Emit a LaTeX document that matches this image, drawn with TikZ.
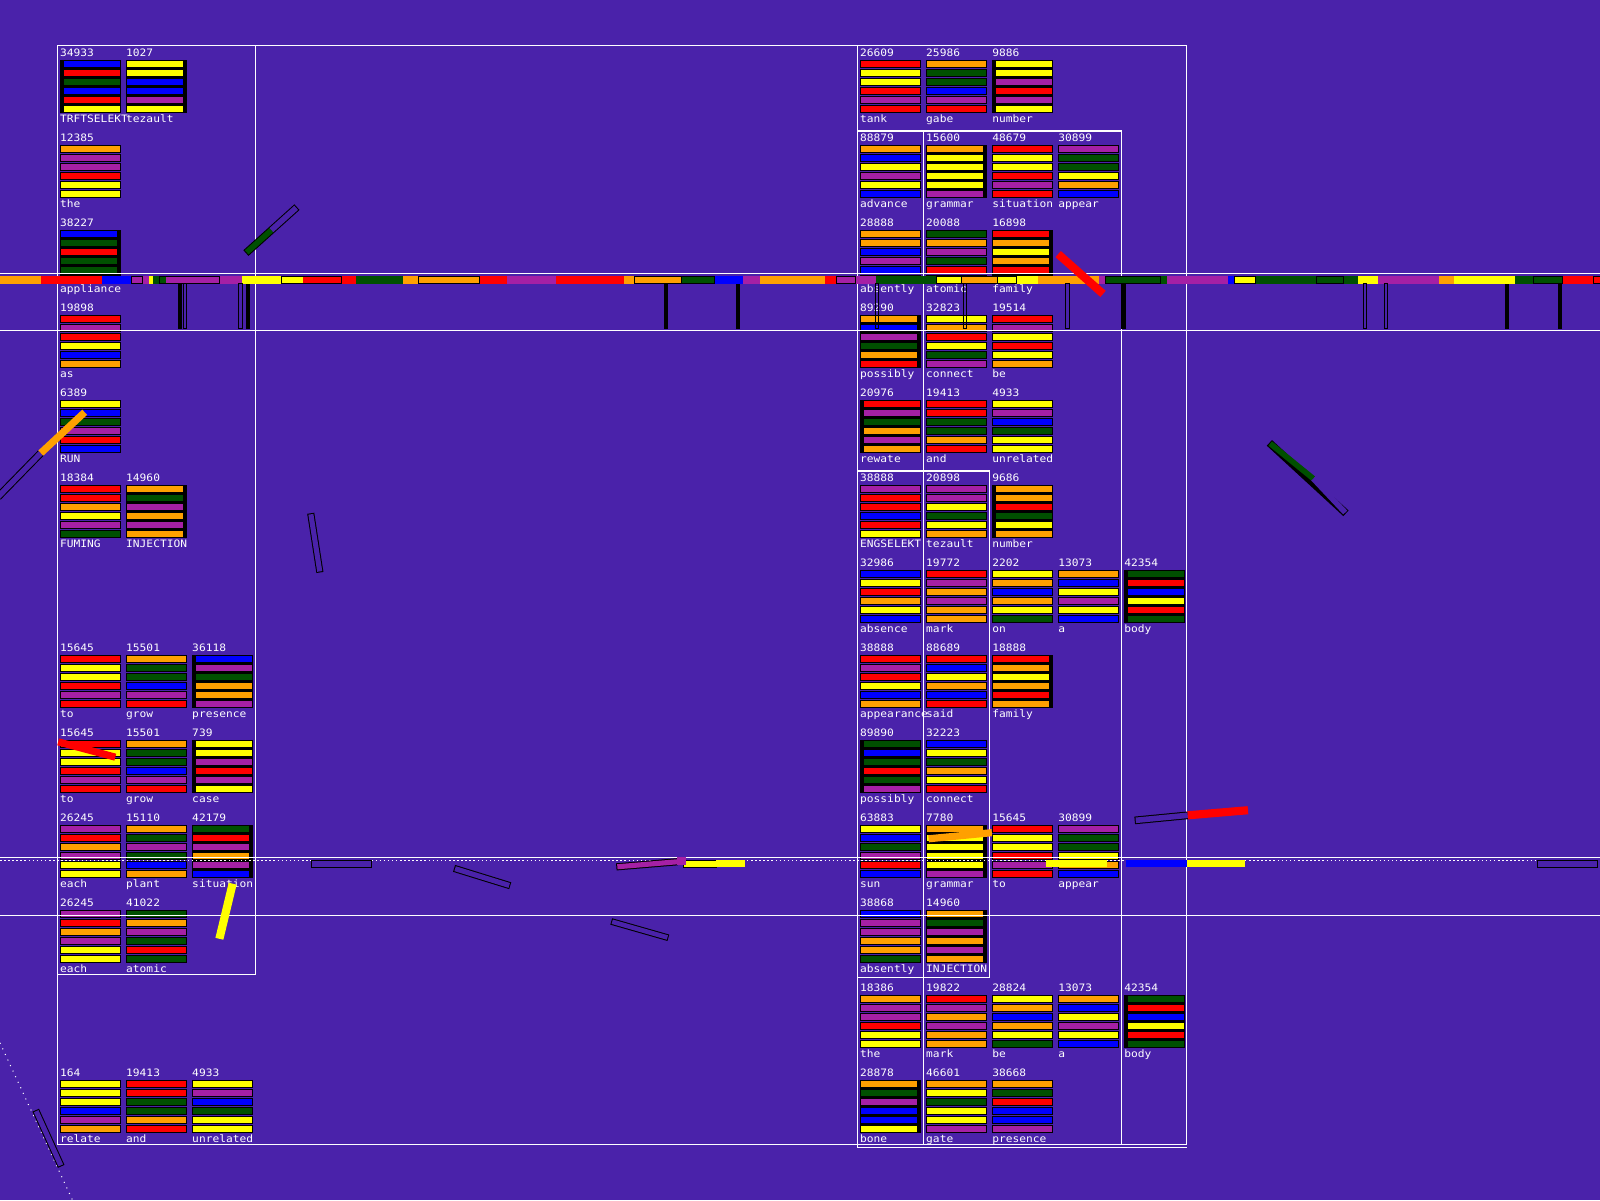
\documentclass[tikz,border=0pt]{standalone}
\usepackage{fontspec}
\setmonofont[FakeStretch=1.1]{DejaVu Sans Mono}
\usepackage{xcolor}
\usepackage{tikz}

\definecolor{bgc}{RGB}{74,34,170}
\definecolor{rd}{RGB}{255,0,0}
\definecolor{yl}{RGB}{255,255,0}
\definecolor{bu}{RGB}{0,0,255}
\definecolor{gn}{RGB}{0,80,0}
\definecolor{pp}{RGB}{165,32,165}
\definecolor{og}{RGB}{255,160,0}

\newcommand{\panelL}{58.8}
\newcommand{\panelR}{842.8}

% card: panel, column, row, number, word, black side (n/l/r), bar colours
\newcommand{\card}[7]{%
  \pgfmathsetmacro{\cx}{\csname panel#1\endcsname+64.7*#2}%
  \pgfmathsetmacro{\cy}{48+83.3*#3}%
  \def\lin{0}\def\rin{0}%
  \if#6l\def\lin{3.2}\fi
  \if#6r\def\rin{3.2}\fi
  \if#6n\else\fill[black] (\cx,\cy+11.1) rectangle ++(59.5,51.3);\fi
  \foreach \bc [count=\k from 0] in {#7}
    \draw[bar, fill=\bc] (\cx+\lin,\cy+11.5+8.8*\k) rectangle ++(59.5-\lin-\rin,6.5);
  \node[lbl] (#1-#2-#3-num) at (\cx,\cy+7) {#4};
  \node[lbl] (#1-#2-#3-word) at (\cx,\cy+72.5) {#5};
}

\begin{document}
\begin{tikzpicture}[
    x=1pt, y=-1pt,
    bar/.style={draw=black, line width=0.9pt},
    lbl/.style={text=white, inner sep=0pt, anchor=base west, font=\ttfamily\fontsize{10}{10}\selectfont},
    frame/.style={draw=white, line width=1.1pt},
    stick/.style={draw=black, line width=7.5pt},
    core/.style={line width=5.5pt}
]

\fill[bgc] (0,0) rectangle (1568,1176);
\useasboundingbox (0,0) rectangle (1568,1176);

% Cards, left panel :
\card{L}{0}{0}{34933}{TRFTSELEKT}{l}{bu,rd,gn,bu,rd,yl}
\card{L}{1}{0}{1027}{tezault}{r}{yl,yl,bu,bu,pp,yl}
\card{L}{0}{1}{12385}{the}{n}{og,pp,pp,rd,yl,yl}
\card{L}{0}{2}{38227}{appliance}{r}{bu,gn,rd,gn,gn,gn}
\card{L}{0}{3}{19898}{as}{n}{rd,pp,rd,yl,bu,og}
\card{L}{0}{4}{6389}{RUN}{n}{yl,bu,gn,pp,rd,bu}
\card{L}{0}{5}{18384}{FUMING}{n}{rd,rd,og,yl,pp,gn}
\card{L}{1}{5}{14960}{INJECTION}{r}{og,gn,pp,og,pp,og}
\card{L}{0}{7}{15645}{to}{n}{rd,yl,yl,rd,pp,rd}
\card{L}{1}{7}{15501}{grow}{n}{og,gn,gn,bu,pp,rd}
\card{L}{2}{7}{36118}{presence}{l}{bu,pp,gn,og,og,pp}
\card{L}{0}{8}{15645}{to}{n}{rd,yl,yl,rd,pp,rd}
\card{L}{1}{8}{15501}{grow}{n}{og,gn,gn,bu,pp,rd}
\card{L}{2}{8}{739}{case}{l}{yl,yl,pp,rd,pp,yl}
\card{L}{0}{9}{26245}{each}{n}{pp,rd,og,pp,yl,yl}
\card{L}{1}{9}{15110}{plant}{n}{og,gn,pp,gn,bu,og}
\card{L}{2}{9}{42179}{situation}{r}{gn,rd,pp,og,pp,bu}
\card{L}{0}{10}{26245}{each}{n}{pp,rd,og,pp,yl,yl}
\card{L}{1}{10}{41022}{atomic}{n}{gn,og,pp,gn,rd,gn}
\card{L}{0}{12}{164}{relate}{n}{yl,yl,yl,bu,pp,og}
\card{L}{1}{12}{19413}{and}{n}{rd,rd,gn,gn,og,rd}
\card{L}{2}{12}{4933}{unrelated}{n}{yl,pp,bu,gn,yl,yl}

% Cards, right panel :
\card{R}{0}{0}{26609}{tank}{n}{rd,yl,yl,rd,pp,rd}
\card{R}{1}{0}{25986}{gabe}{n}{og,gn,gn,bu,pp,rd}
\card{R}{2}{0}{9886}{number}{l}{yl,yl,pp,rd,pp,yl}
\card{R}{0}{1}{88879}{advance}{n}{og,bu,yl,pp,yl,bu}
\card{R}{1}{1}{15600}{grammar}{r}{og,yl,yl,yl,yl,pp}
\card{R}{2}{1}{48679}{situation}{n}{rd,yl,yl,rd,pp,rd}
\card{R}{3}{1}{30899}{appear}{n}{pp,gn,gn,yl,og,bu}
\card{R}{0}{2}{28888}{absently}{n}{og,og,bu,pp,bu,yl}
\card{R}{1}{2}{20088}{atomic}{n}{gn,og,pp,gn,rd,yl}
\card{R}{2}{2}{16898}{family}{r}{rd,og,yl,og,rd,og}
\card{R}{0}{3}{89290}{possibly}{r}{og,bu,pp,gn,og,rd}
\card{R}{1}{3}{32823}{connect}{n}{yl,og,rd,yl,gn,pp}
\card{R}{2}{3}{19514}{be}{n}{rd,pp,yl,rd,yl,og}
\card{R}{0}{4}{20976}{rewate}{l}{rd,pp,gn,og,pp,og}
\card{R}{1}{4}{19413}{and}{n}{rd,rd,gn,gn,og,rd}
\card{R}{2}{4}{4933}{unrelated}{n}{yl,pp,bu,gn,yl,yl}
\card{R}{0}{5}{38888}{ENGSELEKT}{n}{pp,rd,rd,bu,rd,yl}
\card{R}{1}{5}{20898}{tezault}{n}{pp,pp,yl,gn,yl,og}
\card{R}{2}{5}{9686}{number}{l}{og,og,rd,gn,yl,og}
\card{R}{0}{6}{32986}{absence}{n}{bu,yl,rd,og,yl,bu}
\card{R}{1}{6}{19772}{mark}{n}{rd,pp,og,pp,og,og}
\card{R}{2}{6}{2202}{on}{n}{yl,og,bu,og,yl,gn}
\card{R}{3}{6}{13073}{a}{n}{og,bu,yl,pp,yl,bu}
\card{R}{4}{6}{42354}{body}{l}{gn,rd,bu,yl,rd,gn}
\card{R}{0}{7}{38888}{appearance}{n}{rd,pp,rd,yl,bu,og}
\card{R}{1}{7}{88689}{said}{n}{rd,bu,yl,og,bu,rd}
\card{R}{2}{7}{18888}{family}{r}{rd,og,yl,og,rd,og}
\card{R}{0}{8}{89890}{possibly}{l}{gn,bu,gn,rd,gn,pp}
\card{R}{1}{8}{32223}{connect}{n}{bu,yl,gn,og,yl,rd}
\card{R}{0}{9}{63883}{sun}{n}{yl,bu,gn,pp,rd,bu}
\card{R}{1}{9}{7780}{grammar}{r}{og,yl,yl,yl,yl,pp}
\card{R}{2}{9}{15645}{to}{n}{rd,yl,yl,rd,pp,rd}
\card{R}{3}{9}{30899}{appear}{n}{pp,gn,gn,yl,og,bu}
\card{R}{0}{10}{38868}{absently}{n}{bu,pp,pp,og,og,gn}
\card{R}{1}{10}{14960}{INJECTION}{r}{og,gn,pp,og,pp,og}
\card{R}{0}{11}{18386}{the}{n}{og,pp,pp,rd,yl,yl}
\card{R}{1}{11}{19822}{mark}{n}{rd,pp,og,pp,og,og}
\card{R}{2}{11}{28824}{be}{n}{yl,og,bu,og,yl,gn}
\card{R}{3}{11}{13073}{a}{n}{og,bu,yl,pp,yl,bu}
\card{R}{4}{11}{42354}{body}{l}{gn,rd,bu,yl,rd,gn}
\card{R}{0}{12}{28878}{bone}{r}{og,gn,pp,bu,bu,yl}
\card{R}{1}{12}{46601}{gate}{n}{og,yl,gn,yl,yl,pp}
\card{R}{2}{12}{38668}{presence}{n}{og,gn,rd,bu,bu,pp}

% Frames :
\draw[frame] (56,45) rectangle (1163,1122);
\draw[frame] (56,45) rectangle (250,955);
\draw[frame] (840,45) -- (840,1124.5) -- (1163,1124.5);
\draw[frame] (840,128.4) rectangle (1099,1122);
\draw[frame] (905,128.4) -- (905,1122);
\draw[frame] (840,461.6) rectangle (969.5,957.8);
\foreach \ly in {268,324,840,897}
  \draw[frame] (0,\ly) -- (1568,\ly);

% Top strip :
\foreach \xa/\xb/\sc in {0/40.2/og, 40.2/100/rd, 100/128.4/bu, 128.4/146/pp, 146/150/yl,
    150/163/gn, 163/237/pp, 237/297/yl, 297/349/rd, 349/395/gn, 395/470/og, 470/497/rd,
    497/545/pp, 545/612/rd, 612/668/og, 668/700/gn, 700/728/bu, 728/745/pp, 745/808/og,
    808/820/rd, 820/858/pp, 858/918/gn, 918/942/yl, 942/978/og, 978/1017/yl, 1017/1077/og,
    1077/1083/pp, 1083/1144/gn, 1144/1203/pp, 1203/1210/bu, 1210/1230/yl, 1230/1331/gn,
    1331/1350/yl, 1350/1410/pp, 1410/1425/og, 1425/1485/yl, 1485/1531/gn, 1531/1568/rd}
  \fill[\sc] (\xa,270.5) rectangle (\xb,278.3);
\foreach \xa/\xb in {128.4/139.8, 156/215, 275.4/335, 410/470, 622/668, 668/700, 820/838,
    918/942, 942/978, 978/996, 1083/1137, 1210/1230, 1290/1317, 1503/1531, 1562/1570}
  \draw[black, line width=1pt] (\xa,271) rectangle (\xb,277.8);

% Posts :
\foreach \xa in {174.4, 241, 651, 721, 1099, 1475, 1527}
  \fill[black] (\xa,278.3) rectangle ++(4,44);
\foreach \xa in {179.4, 234, 857.5, 944, 1044.5, 1336, 1356.5}
  \draw[black, line width=1pt] (\xa,278.3) rectangle ++(3.6,43.5);

% Lower strip :
\draw[white, line width=1pt, dash pattern=on 1.5pt off 2.5pt] (0,843.5) -- (1568,843.5);
\draw[black, line width=1pt] (305,843) rectangle (364,850);
\draw[black, line width=1pt] (1507,843) rectangle (1566,850);
\draw[black, line width=1pt, fill=yl] (670,843) rectangle (702,850);
\fill[yl] (702,843) rectangle (730,850);
\fill[yl] (1025,843) rectangle (1085,850);
\fill[bu] (1103,843) rectangle (1163,850);
\fill[yl] (1163,843) rectangle (1220,850);
\draw[stick, line width=7pt] (445,851) -- (500,868);
\draw[core, bgc, line width=5pt, shorten <=1pt, shorten >=1pt] (445,851) -- (500,868);
\draw[stick, line width=7pt] (604,849.5) -- (664,844.5);
\draw[core, pp, line width=5pt, shorten <=1pt] (604,849.5) -- (664,844.5);
\fill[pp] (663,840) rectangle (672,848);

% Sticks :
\draw[stick] (241,248) -- (291,203);
\draw[core, gn, shorten <=1pt] (241,248) -- (266,225.5);
\draw[core, bgc, shorten >=1pt] (266,225.5) -- (291,203);
\draw[stick] (-2,487) -- (40,444);
\draw[core, bgc] (-2,487) -- (40,444);
\draw[og, line width=7pt] (40,444) -- (83,404);
\draw[stick, line width=7pt] (304.5,503) -- (313.5,561);
\draw[core, bgc, line width=5pt, shorten <=1pt, shorten >=1pt] (304.5,503) -- (313.5,561);
\draw[rd, line width=7pt] (57,727) -- (113,742);
\draw[yl, line width=8pt] (228,866) -- (215,920);
\draw[stick, line width=6.5pt] (599,903) -- (655,919);
\draw[core, bgc, line width=4.5pt, shorten <=1pt, shorten >=1pt] (599,903) -- (655,919);
\draw[stick] (1244,434) -- (1319,503);
\draw[core, gn, shorten <=1pt] (1244,434) -- (1287,469);
\draw[core, bgc, shorten >=1pt] (1287,469) -- (1319,503);
\draw[stick] (1112,804) -- (1164,799);
\draw[core, bgc, shorten <=1pt] (1112,804) -- (1164,799);
\draw[rd, line width=8pt] (1164,799) -- (1223,794);
\draw[og, line width=7pt] (910,822) -- (972,816);
\draw[rd, line width=8pt] (1037,249) -- (1081,288);
\draw[white, line width=1pt, dash pattern=on 1pt off 5pt] (0,1022) -- (71,1176);
\draw[stick, line width=7pt] (35,1088) -- (60,1143);
\draw[core, bgc, line width=5pt, shorten <=1pt, shorten >=1pt] (35,1088) -- (60,1143);

\end{tikzpicture}
\end{document}
